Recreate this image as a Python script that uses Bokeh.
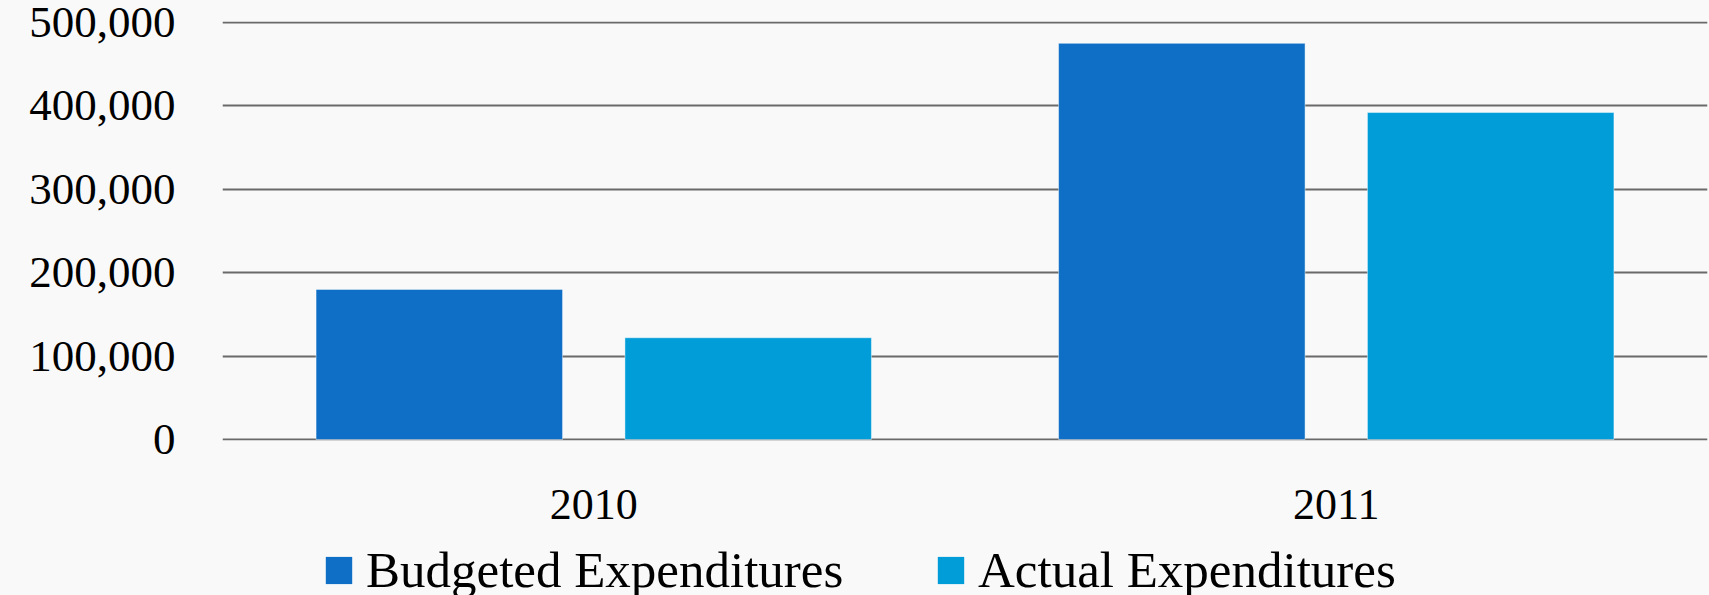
from bokeh.plotting import figure
from bokeh.layouts import column
from bokeh.models import (ColumnDataSource, FactorRange, Range1d, Legend, LegendItem,
                          NumeralTickFormatter, FixedTicker)
from bokeh.transform import dodge
from bokeh.embed import file_html
from bokeh.resources import INLINE

# Expenditure data
years = ["2010", "2011"]
budgeted = [180000, 475000]
actual = [122000, 392000]
y_ticks = [0, 100000, 200000, 300000, 400000, 500000]
series_labels = ["Budgeted Expenditures", "Actual Expenditures"]

BUDGET_COLOR = "#0F6FC6"
ACTUAL_COLOR = "#009DD9"
FONT = "Liberation Serif"
BG = "#F9F9F9"
W = 1709

source = ColumnDataSource(data=dict(year=years, budgeted=budgeted, actual=actual))

# --- main bar chart -------------------------------------------------------
p = figure(
    x_range=FactorRange(*years, range_padding=0),
    y_range=Range1d(-1200, 501200),
    width=W, height=540,
    output_backend="svg", toolbar_location=None,
    min_border_left=222, min_border_right=2,
    min_border_top=21, min_border_bottom=100,
)
p.background_fill_color = BG
p.border_fill_color = BG
p.outline_line_color = None

bar_w = 0.332
p.vbar(x=dodge("year", -0.208, range=p.x_range), top="budgeted", width=bar_w,
       source=source, fill_color=BUDGET_COLOR, line_color="white",
       line_alpha=0.45, line_width=1)
p.vbar(x=dodge("year", 0.208, range=p.x_range), top="actual", width=bar_w,
       source=source, fill_color=ACTUAL_COLOR, line_color="white",
       line_alpha=0.45, line_width=1)

p.xgrid.grid_line_color = None
p.ygrid.ticker = FixedTicker(ticks=y_ticks)
p.ygrid.grid_line_color = "#6A6A6A"
p.ygrid.grid_line_width = 2

p.yaxis.ticker = FixedTicker(ticks=y_ticks)
p.yaxis.formatter = NumeralTickFormatter(format="0,0")
p.yaxis.axis_line_color = None
p.yaxis.major_tick_line_color = None
p.yaxis.minor_tick_line_color = None
p.yaxis.major_tick_out = 0
p.yaxis.major_label_standoff = 47
p.yaxis.major_label_text_font = FONT
p.yaxis.major_label_text_font_size = "45px"
p.yaxis.major_label_text_color = "black"

p.xaxis.axis_line_color = None
p.xaxis.major_tick_line_color = None
p.xaxis.major_tick_out = 0
p.xaxis.major_label_standoff = 49
p.xaxis.major_label_text_font = FONT
p.xaxis.major_label_text_font_size = "44px"
p.xaxis.major_label_text_color = "black"

# --- legend strip below the chart ----------------------------------------
leg = figure(
    width=W, height=55, x_range=Range1d(0, 1), y_range=Range1d(0, 1),
    output_backend="svg", toolbar_location=None,
    min_border_left=0, min_border_right=0, min_border_top=0, min_border_bottom=0,
)
leg.axis.visible = False
leg.grid.visible = False
leg.outline_line_color = None
leg.background_fill_color = BG
leg.border_fill_color = BG
# zero-height swatch renderers: they only feed the legend entries
swatch = ColumnDataSource(data=dict(x=[-50], top=[0]))
rb = leg.vbar(x="x", top="top", width=0.01, source=swatch, fill_color=BUDGET_COLOR, line_color=None)
ra = leg.vbar(x="x", top="top", width=0.01, source=swatch, fill_color=ACTUAL_COLOR, line_color=None)

legend = Legend(
    items=[LegendItem(label=series_labels[0], renderers=[rb]),
           LegendItem(label=series_labels[1], renderers=[ra])],
    orientation="horizontal",
    location=(100, -4),
    glyph_width=33, glyph_height=34,
    label_standoff=11, label_width=568, spacing=0,
    padding=0, margin=0,
    label_text_font=FONT, label_text_font_size="51px", label_text_color="black",
    border_line_color=None, background_fill_alpha=0,
)
leg.add_layout(legend, "center")

layout = column(p, leg, spacing=0, background=BG)
open("out.html", "w").write(file_html(layout, INLINE))
